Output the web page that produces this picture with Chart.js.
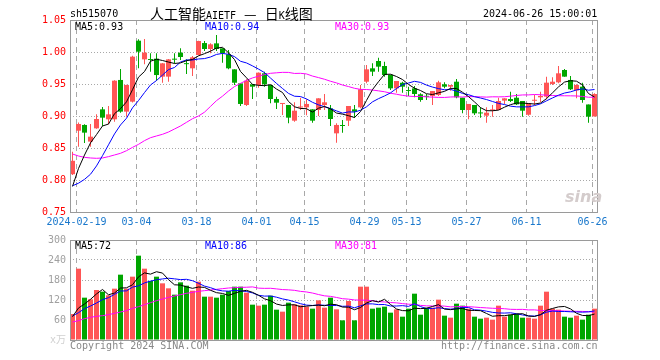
<!DOCTYPE html>
<html><head><meta charset="utf-8">
<script src="https://cdn.jsdelivr.net/npm/chart.js@4.4.1/dist/chart.umd.min.js"></script>
<style>
html,body{margin:0;padding:0;background:#fff;}
#wrap{position:relative;width:660px;height:360px;overflow:hidden;background:#fff;}
canvas{position:absolute;left:0;}
.t{position:absolute;white-space:pre;font-family:'DejaVu Sans Mono',monospace;font-size:10px;line-height:10px;color:#000;}
.cjk{font-family:'Noto Sans CJK SC',sans-serif;font-size:14px;}
</style></head><body>
<div id="wrap">
<canvas id="pc" width="660" height="230" style="top:0;width:660px;height:230px"></canvas>
<canvas id="vc" width="660" height="130" style="top:230px;width:660px;height:130px"></canvas>
<div class="t" style="left:70px;top:9px">sh515070</div>
<div class="t" style="left:150px;top:6px;line-height:14px"><span class="cjk">人工智能</span><span style="font-size:10px">AIETF</span><span class="cjk" style="margin-left:8px;margin-right:8px">—</span><span class="cjk">日</span><span style="font-size:10px">K</span><span class="cjk">线图</span></div>
<div class="t" style="left:483px;top:9px">2024-06-26 15:00:01</div>
<div class="t" style="left:75px;top:22px;color:#000">MA5:0.93</div>
<div class="t" style="left:205px;top:22px;color:#0000ff">MA10:0.94</div>
<div class="t" style="left:335px;top:22px;color:#ff00ff">MA30:0.93</div>
<div class="t" style="left:75px;top:241px;color:#000">MA5:72</div>
<div class="t" style="left:205px;top:241px;color:#0000ff">MA10:86</div>
<div class="t" style="left:335px;top:241px;color:#ff00ff">MA30:81</div>
<div class="t" style="left:70px;top:341px;color:#888">Copyright 2024 SINA.COM</div>
<div class="t" style="left:441px;top:341px;color:#888">http://finance.sina.com.cn</div>
<div class="t" style="left:565px;top:189px;font-family:'DejaVu Sans',sans-serif;font-size:16px;line-height:16px;font-weight:bold;font-style:italic;color:#d4cccc">sina</div>
</div>
<script>
const TICK_LABELS = ['2024-02-19','03-04','03-18','04-01','04-15','04-29','05-13','05-27','06-11','06-26'];
const TICK_POS = [1,11,21,31,39,49,56,66,76,87];
const PRICE_TICKS = [0.75,0.80,0.85,0.90,0.95,1.00,1.05];
const VOL_TICKS = [0,60,120,180,240,300];

const OPEN = [0.809,0.877,0.886,0.860,0.8807,0.9104,0.8948,0.8948,0.9563,0.9068,
 0.9224,1.0177,0.9885,0.9878,0.9896,0.9615,0.9615,0.989,0.999,0.9812,
 0.9745,0.9953,1.014,1.0047,1.0135,1.0057,0.9964,0.9729,0.951,0.9172,
 0.9495,0.9484,0.9667,0.9484,0.9266,0.9188,0.9172,0.8927,0.9133,0.9135,
 0.9104,0.9094,0.9172,0.912,0.8729,0.8846,0.8927,0.9104,0.9135,0.9536,
 0.9745,0.9859,0.9781,0.9645,0.9432,0.952,0.9392,0.9432,0.9339,0.9302,
 0.9313,0.9328,0.9495,0.9458,0.9536,0.9286,0.9094,0.9172,0.9042,0.9005,
 0.9088,0.9094,0.924,0.9266,0.9286,0.9234,0.902,0.9238,0.9292,0.9302,
 0.950,0.9526,0.9719,0.9563,0.940,0.9458,0.918,0.8994];
const HIGH = [0.844,0.890,0.887,0.8875,0.9026,0.914,0.9156,0.956,0.9734,0.949,
 0.9943,1.0198,1.0203,0.998,0.998,0.983,0.989,0.998,1.0057,0.9885,
 0.9938,1.0175,1.0172,1.0135,1.0266,1.006,1.0031,0.973,0.951,0.9573,
 0.9495,0.968,0.9693,0.9484,0.9302,0.9198,0.9172,0.9214,0.9286,0.926,
 0.9104,0.9276,0.9344,0.9172,0.8885,0.8938,0.9156,0.9172,0.9484,0.9797,
 0.9823,0.9911,0.9849,0.9645,0.9547,0.9536,0.9458,0.9469,0.9354,0.9344,
 0.939,0.9552,0.9526,0.9484,0.9578,0.9286,0.9188,0.9172,0.9135,0.9135,
 0.9172,0.9286,0.9276,0.938,0.9344,0.9234,0.9198,0.9333,0.938,0.9615,
 0.9604,0.9781,0.9734,0.9625,0.9495,0.9521,0.918,0.9354];
const LOW = [0.808,0.852,0.858,0.852,0.880,0.8844,0.887,0.891,0.905,0.899,
 0.921,0.9745,0.9807,0.9693,0.9552,0.952,0.9536,0.982,0.9875,0.9656,
 0.9625,0.9945,1.0016,0.998,1.0016,0.9833,0.973,0.9484,0.9156,0.9156,
 0.9266,0.9443,0.9458,0.9198,0.911,0.9016,0.8885,0.891,0.9094,0.901,
 0.8896,0.900,0.9094,0.8844,0.8583,0.874,0.8844,0.8969,0.912,0.951,
 0.9625,0.9693,0.9615,0.9406,0.9365,0.9365,0.9313,0.9292,0.9224,0.925,
 0.9172,0.9313,0.9432,0.9396,0.9276,0.9042,0.8948,0.9016,0.8974,0.8896,
 0.899,0.9094,0.9188,0.922,0.9172,0.899,0.9005,0.9172,0.922,0.926,
 0.9484,0.951,0.9615,0.9406,0.9276,0.9208,0.8896,0.8994];
const CLOSE = [0.830,0.8875,0.874,0.8677,0.8953,0.8974,0.9026,0.9552,0.9068,0.9484,
 0.9927,1.0005,0.999,0.9875,0.964,0.9823,0.9885,0.988,0.9922,0.981,
 0.9917,1.0172,1.0047,1.012,1.0047,0.998,0.9745,0.952,0.9188,0.9552,
 0.9458,0.9677,0.9495,0.9266,0.9208,0.919,0.8974,0.9083,0.9135,0.9188,
 0.8927,0.9276,0.9214,0.8953,0.886,0.8844,0.9156,0.9068,0.9417,0.9729,
 0.9693,0.9771,0.964,0.9432,0.9547,0.9458,0.939,0.9344,0.925,0.930,
 0.939,0.9526,0.9458,0.9484,0.9292,0.9094,0.9188,0.9042,0.904,0.9052,
 0.909,0.9234,0.9276,0.9234,0.9182,0.9083,0.9198,0.924,0.9313,0.9521,
 0.9536,0.9667,0.9615,0.9417,0.9484,0.925,0.899,0.9344];
const VOLUME = [78,214,127,122,150,145,134,154,196,154,
 190,253,214,177,190,170,155,136,173,163,
 148,175,130,130,127,136,147,160,160,142,
 106,103,106,133,91,85,112,107,104,100,
 94,119,97,127,92,59,117,59,160,160,
 94,97,100,82,92,70,94,139,76,97,
 97,121,73,67,109,103,94,70,64,67,
 61,103,70,76,79,67,67,64,103,145,
 94,91,70,67,73,61,76,94];
const MA5 = [0.790,0.818,0.839,0.858,0.8709,0.8844,0.8874,0.9036,0.9115,0.9221,
 0.9411,0.9607,0.9695,0.9856,0.9887,0.9867,0.9843,0.9821,0.9830,0.9864,
 0.9883,0.9940,0.9974,1.0013,1.0061,1.0073,0.9988,0.9882,0.9696,0.9597,
 0.9493,0.9479,0.9474,0.9490,0.9421,0.9367,0.9227,0.9144,0.9118,0.9114,
 0.9061,0.9122,0.9148,0.9112,0.9046,0.9029,0.9005,0.8976,0.9069,0.9243,
 0.9413,0.9536,0.9650,0.9653,0.9617,0.9570,0.9493,0.9434,0.9398,0.9348,
 0.9335,0.9362,0.9385,0.9432,0.9430,0.9371,0.9303,0.9220,0.9131,0.9083,
 0.9082,0.9092,0.9138,0.9177,0.9203,0.9202,0.9195,0.9187,0.9203,0.9271,
 0.9362,0.9455,0.9530,0.9551,0.9544,0.9487,0.9351,0.9297];
const MA10 = [0.791,0.795,0.801,0.809,0.822,0.838,0.855,0.872,0.886,0.8965,
 0.9128,0.9241,0.9366,0.9485,0.9554,0.9639,0.9725,0.9758,0.9843,0.9876,
 0.9875,0.9891,0.9897,0.9922,0.9962,0.9978,0.9964,0.9928,0.9855,0.9829,
 0.9783,0.9733,0.9678,0.9593,0.9509,0.9430,0.9353,0.9309,0.9304,0.9267,
 0.9214,0.9174,0.9146,0.9115,0.9080,0.9045,0.9064,0.9062,0.9090,0.9144,
 0.9221,0.9271,0.9313,0.9361,0.9430,0.9491,0.9515,0.9542,0.9525,0.9483,
 0.9452,0.9428,0.9410,0.9415,0.9389,0.9353,0.9333,0.9302,0.9281,0.9257,
 0.9227,0.9197,0.9179,0.9154,0.9143,0.9142,0.9143,0.9163,0.9190,0.9237,
 0.9282,0.9325,0.9359,0.9377,0.9407,0.9424,0.9403,0.9414];
const MA30 = [0.8406,0.8375,0.8354,0.8344,0.8339,0.8344,0.8365,0.8391,0.8417,0.8458,
 0.851,0.8557,0.8615,0.8661,0.8688,0.8714,0.875,0.8797,0.8844,0.8901,
 0.8958,0.900,0.906,0.915,0.924,0.931,0.939,0.946,0.951,0.9556,
 0.9595,0.9622,0.9647,0.9667,0.9675,0.9682,0.9681,0.9665,0.9667,0.9657,
 0.9624,0.9600,0.9574,0.9543,0.9517,0.9484,0.9460,0.9433,0.9416,0.9414,
 0.9406,0.9393,0.9379,0.9356,0.9340,0.9322,0.9310,0.9304,0.9307,0.9298,
 0.9296,0.9291,0.9290,0.9297,0.9300,0.9296,0.9304,0.9302,0.9299,0.9295,
 0.9300,0.9299,0.9301,0.9310,0.9321,0.9329,0.9330,0.9336,0.9332,0.9325,
 0.9320,0.9317,0.9316,0.9315,0.9313,0.9306,0.9293,0.9293];
const VMA5 = [70,96,108,122,138.2,151.6,135.6,141,155.8,156.6,
 165.6,189.4,201.4,197.6,204.8,200.8,181.2,165.6,164.8,159.4,
 155,159,157.8,149.2,142,139.6,134,140,146,149,
 143,134.2,123.4,118,107.8,103.6,105.4,105.6,99.8,101.6,
 103.4,104.8,102.8,107.4,105.8,98.8,98.4,90.8,97.4,111,
 118,114,122.2,106.6,93,88.2,87.6,95.4,94.2,95.2,
 100.6,106,92.8,91,93.4,94.6,89.2,88.6,88,79.6,
 71.2,73,73,75.4,77.8,79,71.8,70.6,76,89.2,
 94.6,99.4,100.6,93.4,80.2,73.6,73,77.8];
const VMA10 = [72,82,94,102,111,121,127,137,147,147.4,
 158.6,162.5,171.2,176.7,180.7,183.2,185.3,183.5,181.2,182.1,
 177.9,170.1,161.7,157,150.7,147.3,146.5,148.9,147.6,145.5,
 141.3,134.1,131.7,132,128.4,123.3,119.8,114.5,108.9,104.7,
 103.5,105.1,104.2,103.6,103.7,101.1,101.6,96.8,102.4,108.4,
 108.4,106.2,106.5,102,102,103.1,100.8,108.8,100.4,94.1,
 94.4,96.8,94.1,92.6,94.3,97.6,97.6,90.7,89.5,86.5,
 82.9,81.1,80.8,81.7,78.7,75.1,72.4,71.8,75.7,83.5,
 86.8,85.6,85.6,84.7,84.1,83.5,84.4,87.4];
const VMA30 = [54,58,64,68,71,73,76,80,84,88,
 95,100,106,112,118,123,128,132,136,140,
 143,146,148,150,152,154,156,157,158,158.3,
 159.3,155.6,154.9,155.2,153.3,151.3,150.5,149,145.9,144.1,
 140.9,136.4,132.5,130.9,127.6,123.9,122.6,120.1,119.6,119.5,
 117.7,115.1,114.1,112.5,111.4,109.2,107.4,106.7,103.9,102.4,
 102.1,102.7,101.6,99.4,100,100.6,100,98.8,97.4,96.3,
 95.2,94.7,93.8,92.1,91.7,91.9,90.3,90.4,88.5,88,
 88,87.8,86.8,86.3,86,85.7,85.1,83.6];

const RED = '#ff5555', GREEN = '#00a600';
const FONT = {family: "'DejaVu Sans Mono', 'Noto Sans CJK SC', monospace", size: 10};
const IDX = OPEN.map((_, i) => i);
const COLORS = IDX.map(i => CLOSE[i] >= OPEN[i] ? RED : GREEN);
const XMIN = -2.5 / 6, XMAX = OPEN.length - 2.5 / 6;

const framePlugin = {
  id: 'frame',
  afterDraw(chart) {
    const a = chart.chartArea, ctx = chart.ctx;
    ctx.save();
    ctx.strokeStyle = '#9a9a9a';
    ctx.lineWidth = 1;
    ctx.setLineDash([]);
    ctx.strokeRect(a.left + 0.5, a.top + 0.5, a.right - a.left - 1, a.bottom - a.top);
    ctx.restore();
  }
};

function xScale(showLabels, h) {
  return {
    type: 'linear', min: XMIN, max: XMAX, offset: false, bounds: 'data',
    afterBuildTicks: s => { s.ticks = TICK_POS.map(p => ({value: p - 1 / 3})); },
    afterFit: s => { s.height = h; },
    ticks: {display: showLabels, autoSkip: false, maxRotation: 0, minRotation: 0, padding: 4,
      color: '#1a78cc', font: FONT, callback: (v, i) => TICK_LABELS[i]},
    grid: {color: '#a8a8a8', lineWidth: 1, drawTicks: false, offset: false},
    border: {display: false, dash: [5, 4]}
  };
}
function line(data, color) {
  return {type: 'line', data: IDX.map(i => ({x: i, y: data[i]})), borderColor: color, borderWidth: 1,
    pointRadius: 0, tension: 0, fill: false, order: 0};
}
const common = {
  responsive: false, animation: false, devicePixelRatio: 1, events: [],
  plugins: {legend: {display: false}, tooltip: {enabled: false}}
};

new Chart(document.getElementById('pc'), {
  type: 'bar',
  data: {datasets: [
    line(MA5, '#000000'), line(MA10, '#0000ff'), line(MA30, '#ff00ff'),
    {type: 'bar', data: IDX.map(i => ({x: i, y: [OPEN[i], CLOSE[i]]})), backgroundColor: COLORS,
      barThickness: 5, grouped: false, minBarLength: 1, inflateAmount: 0, order: 1},
    {type: 'bar', data: IDX.map(i => ({x: i, y: [LOW[i], HIGH[i]]})), backgroundColor: COLORS,
      barThickness: 1, grouped: false, minBarLength: 1, inflateAmount: 0, order: 2}
  ]},
  options: Object.assign({}, common, {
    layout: {padding: {left: 0, top: 20, right: 62, bottom: 0}},
    scales: {
      x: xScale(true, 18),
      y: {min: 0.75, max: 1.05,
        afterBuildTicks: s => { s.ticks = PRICE_TICKS.map(v => ({value: v})); },
        afterFit: s => { s.width = 70; },
        ticks: {color: '#ff0000', font: FONT, padding: 4, callback: v => Number(v).toFixed(2)},
        grid: {color: '#a8a8a8', lineWidth: 1, drawTicks: false},
        border: {display: false, dash: [1, 2]}}
    }
  }),
  plugins: [framePlugin]
});

new Chart(document.getElementById('vc'), {
  type: 'bar',
  data: {datasets: [
    line(VMA5, '#000000'), line(VMA10, '#0000ff'), line(VMA30, '#ff00ff'),
    {type: 'bar', data: IDX.map(i => ({x: i, y: VOLUME[i]})), backgroundColor: COLORS,
      barThickness: 5, grouped: false, inflateAmount: 0, order: 1}
  ]},
  options: Object.assign({}, common, {
    layout: {padding: {left: 0, top: 10, right: 62, bottom: 0}},
    scales: {
      x: xScale(false, 20),
      y: {min: 0, max: 300,
        afterBuildTicks: s => { s.ticks = VOL_TICKS.map(v => ({value: v})); },
        afterFit: s => { s.width = 70; },
        ticks: {font: FONT, padding: 4,
          color: c => (c.tick && c.tick.value === 0) ? '#d0d0d0' : '#a0a0a0',
          callback: v => v === 0 ? 'x万' : String(v)},
        grid: {color: '#a8a8a8', lineWidth: 1, drawTicks: false},
        border: {display: false, dash: [1, 2]}}
    }
  }),
  plugins: [framePlugin]
});
</script>
</body></html>
